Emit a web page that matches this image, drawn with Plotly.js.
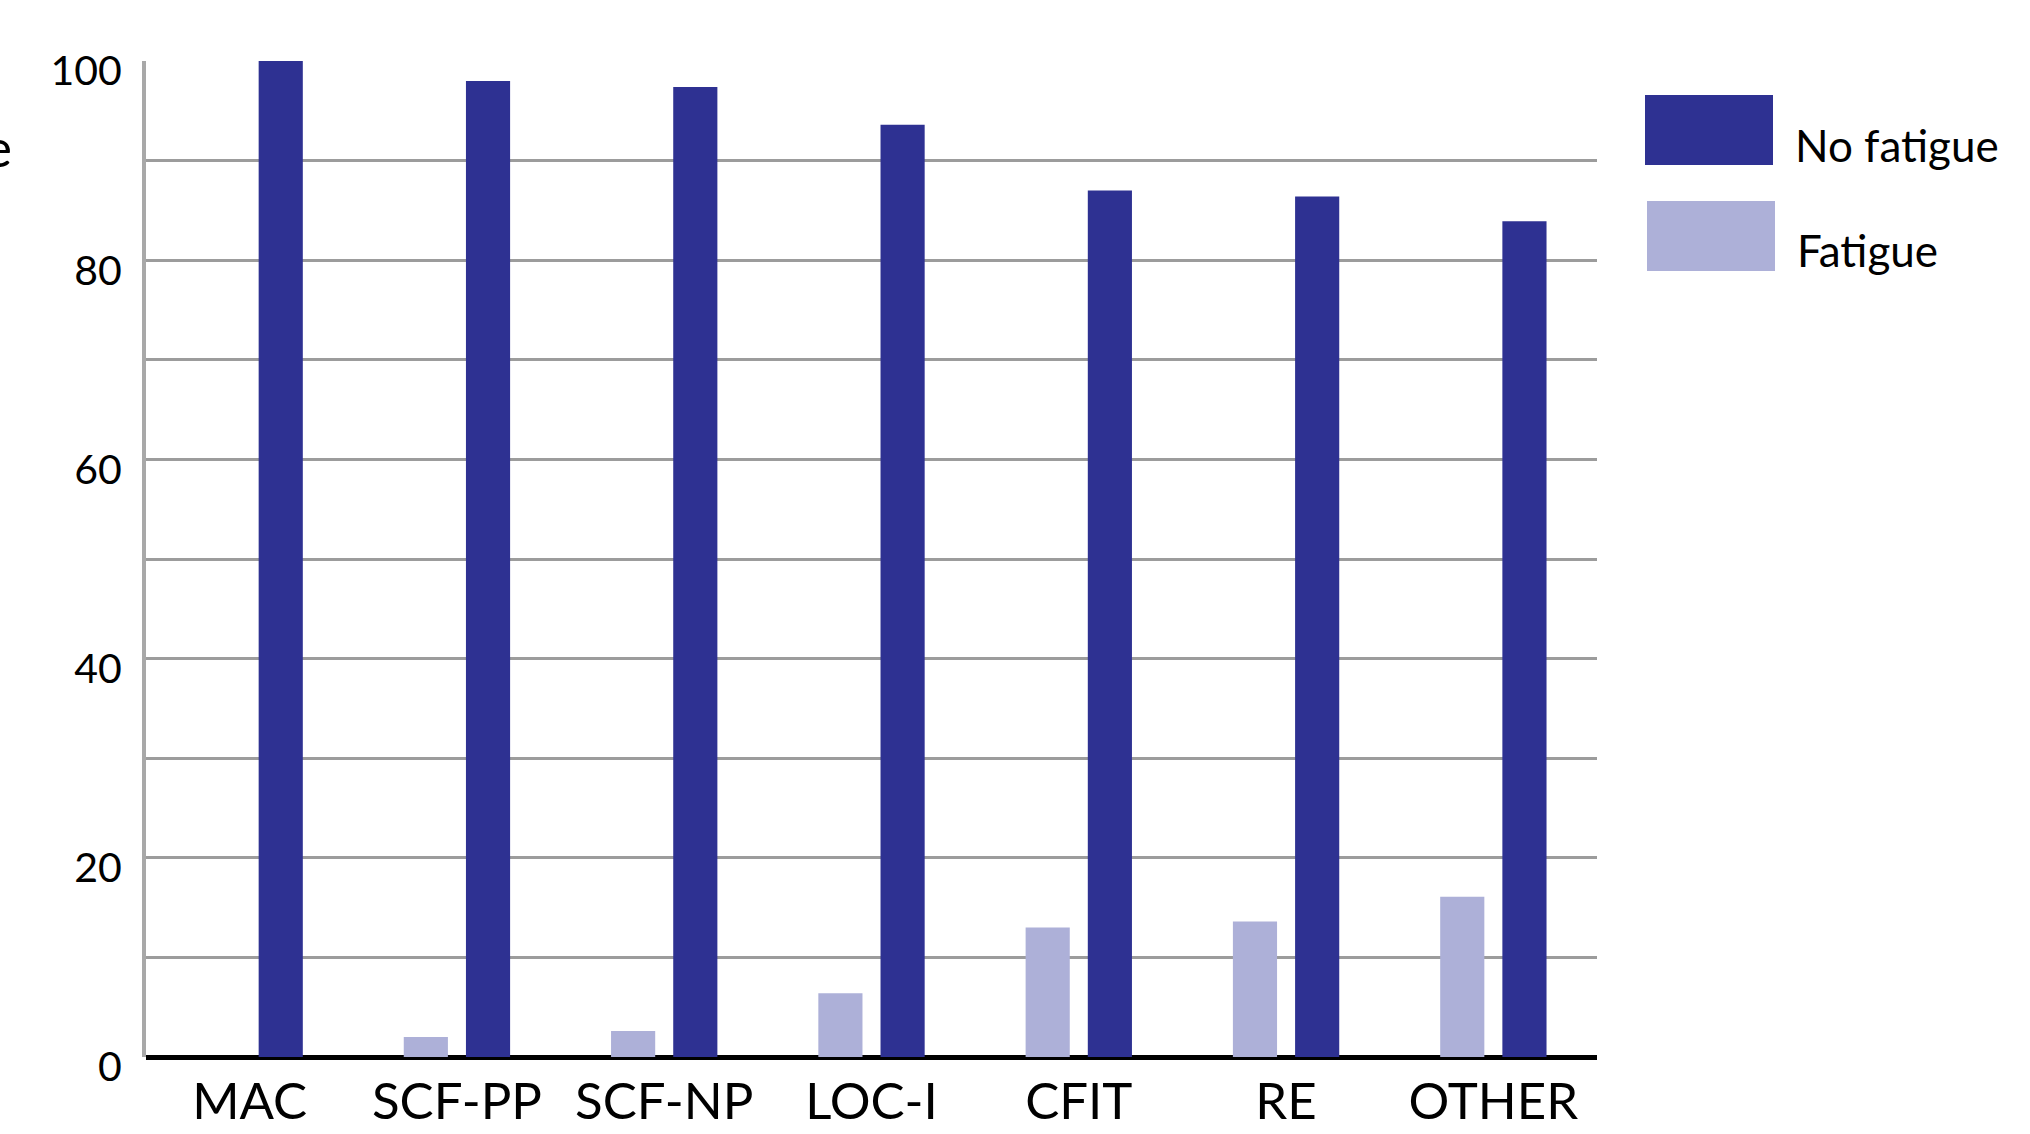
<!DOCTYPE html>
<html>
<head>
<meta charset="utf-8">
<script src="https://cdn.plot.ly/plotly-3.0.1.min.js"></script>
<style>
html,body{margin:0;padding:0;background:#fff;}
#chart{width:2030px;height:1134px;}
</style>
</head>
<body>
<div id="chart"></div>
<script>
const categories = ["MAC", "SCF-PP", "SCF-NP", "LOC-I", "CFIT", "RE", "OTHER"];
const fatigue = [0, 2, 2.6, 6.4, 13, 13.6, 16.1];
const noFatigue = [100, 98, 97.4, 93.6, 87, 86.4, 83.9];
const seriesNames = ["No fatigue", "Fatigue"];
const yTickVals = [0, 20, 40, 60, 80, 100];
const yTitle = "Percentage";

const darkColor = "#2E3192";
const lightColor = "#ADB0D8";
const FONT = "Lato, 'Open Sans', sans-serif";

// plot area in pixels
const W = 2030, H = 1134;
const L = 146, R = 1597, T = 61, B = 1057;
const px = x => (x - L) / (R - L);
const py = y => (B - y) / (B - T);

const traces = [
  {type: "bar", name: seriesNames[1], x: categories, y: fatigue,
   marker: {color: lightColor, line: {width: 0}}, showlegend: false, hoverinfo: "x+y"},
  {type: "bar", name: seriesNames[0], x: categories, y: noFatigue,
   marker: {color: darkColor, line: {width: 0}}, showlegend: false, hoverinfo: "x+y"}
];

const layout = {
  width: W, height: H,
  paper_bgcolor: "#fff", plot_bgcolor: "#fff",
  margin: {l: L, r: W - R, t: T, b: H - B, pad: 0},
  barmode: "group", bargap: 0.4, bargroupgap: 0.29,
  showlegend: false,
  font: {family: FONT, color: "#000"},
  xaxis: {
    type: "category", range: [-0.5, 6.5], fixedrange: true,
    showgrid: false, zeroline: false, showline: false, ticks: "",
    tickfont: {size: 51, family: FONT, color: "#000"},
    ticklabelstandoff: 10
  },
  yaxis: {
    range: [0, 100], fixedrange: true,
    tickvals: yTickVals, ticktext: yTickVals.map(String),
    showgrid: true, gridcolor: "#9c9c9c", gridwidth: 3,
    minor: {dtick: 10, showgrid: true, gridcolor: "#9c9c9c", gridwidth: 3, ticks: ""},
    zeroline: true, zerolinecolor: "#000", zerolinewidth: 5,
    showline: true, linecolor: "#a8a8a8", linewidth: 4,
    ticks: "", tickfont: {size: 41, family: FONT, color: "#000"},
    ticklabelstandoff: 12, ticklabelshift: 10
  },
  shapes: [
    {type: "rect", xref: "paper", yref: "paper", x0: px(1645), x1: px(1773), y0: py(165), y1: py(95),
     fillcolor: darkColor, line: {width: 0}},
    {type: "rect", xref: "paper", yref: "paper", x0: px(1647), x1: px(1775), y0: py(271), y1: py(201),
     fillcolor: lightColor, line: {width: 0}}
  ],
  annotations: [
    {xref: "paper", yref: "paper", x: px(1793), y: py(145), xanchor: "left", yanchor: "middle",
     text: seriesNames[0], showarrow: false, font: {size: 44, family: FONT, color: "#000"}},
    {xref: "paper", yref: "paper", x: px(1795), y: py(250), xanchor: "left", yanchor: "middle",
     text: seriesNames[1], showarrow: false, font: {size: 44, family: FONT, color: "#000"}},
    {xref: "paper", yref: "paper", x: px(14), y: py(147), xanchor: "right", yanchor: "middle",
     text: yTitle, showarrow: false, font: {size: 53, family: FONT, color: "#000"}}
  ]
};

Plotly.newPlot("chart", traces, layout, {displayModeBar: false, staticPlot: true});
</script>
</body>
</html>
